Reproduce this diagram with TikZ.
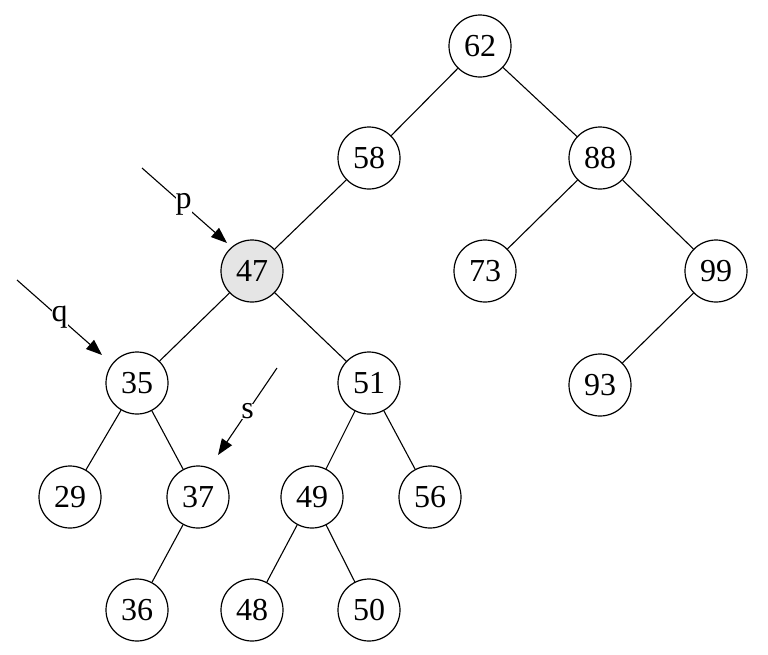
\documentclass[tikz,border=0pt]{standalone}
\usepackage{fontspec}
\setmainfont{Liberation Serif}
\usetikzlibrary{arrows.meta}
\begin{document}
\begin{tikzpicture}[x=1pt,y=-1pt,
  nd/.style={circle,draw,line width=1.2pt,minimum size=62pt,inner sep=0pt,font=\fontsize{32}{32}\selectfont,fill=white},
  hl/.style={nd,fill=gray!20},
  edge/.style={line width=1.1pt},
  ptr/.style={line width=1.1pt,-{Triangle[length=16pt,width=12pt]}},
  lbl/.style={fill=white,inner sep=0pt,font=\fontsize{32}{32}\selectfont}]
\useasboundingbox (0,0) rectangle (768,654);
\node[nd] (n62) at (480,46) {62};
\node[nd] (n58) at (369,158) {58};
\node[nd] (n88) at (600,158) {88};
\node[hl] (n47) at (252,271) {47};
\node[nd] (n73) at (485,271) {73};
\node[nd] (n99) at (716,271) {99};
\node[nd] (n35) at (137,383) {35};
\node[nd] (n51) at (369,383) {51};
\node[nd] (n93) at (600,385) {93};
\node[nd] (n29) at (70,497) {29};
\node[nd] (n37) at (198,497) {37};
\node[nd] (n49) at (312,497) {49};
\node[nd] (n56) at (430,497) {56};
\node[nd] (n36) at (137,610) {36};
\node[nd] (n48) at (252,610) {48};
\node[nd] (n50) at (369,610) {50};
\draw[edge] (n62)--(n58) (n62)--(n88) (n58)--(n47) (n88)--(n73) (n88)--(n99)
  (n47)--(n35) (n47)--(n51) (n99)--(n93) (n35)--(n29) (n35)--(n37)
  (n51)--(n49) (n51)--(n56) (n37)--(n36) (n49)--(n48) (n49)--(n50);
\coordinate (pa) at (142,168); \coordinate (pb) at (227,243);
\coordinate (qa) at (17,280); \coordinate (qb) at (102,355);
\coordinate (sa) at (277,368); \coordinate (sb) at (218,455);
\draw[ptr] (pa) -- node[lbl,pos=0.49] (lp) {p} (pb);
\draw[ptr] (qa) -- node[lbl,pos=0.5] (lq) {q} (qb);
\draw[ptr] (sa) -- node[lbl,pos=0.5] (ls) {s} (sb);
\end{tikzpicture}
\end{document}
